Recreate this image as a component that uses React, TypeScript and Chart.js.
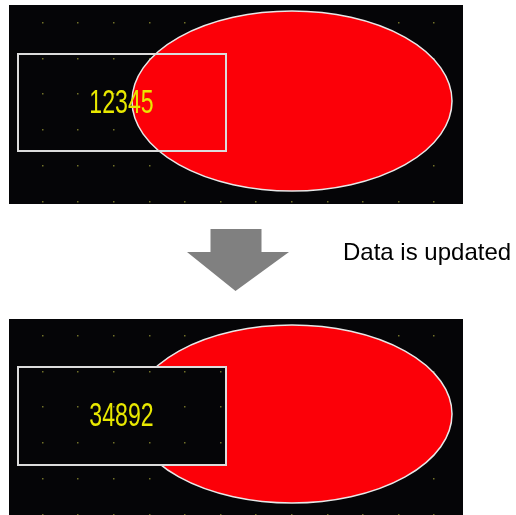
import React, { useEffect, useRef } from "react";
import { Chart, registerables } from "chart.js";

Chart.register(...registerables);

// Data
const stages = ["before update", "after update"];
const displayValues = ["12345", "34892"];
const caption = "Data is updated";

const W = 516;
const H = 515;

// layout of the two screen panels (diagram geometry)
const panelLayout = [
  { top: 5, bottom: 204, ecy: 101, ery: 90, rTop: 54, rBottom: 151, textBase: 113, dotY0: 22, opaqueBox: false },
  { top: 319, bottom: 515, ecy: 414, ery: 89, rTop: 367, rBottom: 465, textBase: 426, dotY0: 335, opaqueBox: true },
];

const diagramPlugin = {
  id: "diagram",
  beforeDatasetsDraw(chart: any) {
    const ctx: CanvasRenderingContext2D = chart.ctx;
    const xs = chart.scales.x;
    const ys = chart.scales.y;
    const px = (v: number) => xs.getPixelForValue(v);
    const py = (v: number) => ys.getPixelForValue(v);

    ctx.save();
    // white page
    ctx.fillStyle = "#ffffff";
    ctx.fillRect(px(0), py(0), px(W) - px(0), py(H) - py(0));

    const drawDots = (p: any) => {
      ctx.fillStyle = "#707028";
      for (let j = 0; j < 7; j++) {
        const dy = p.dotY0 + j * 35.7;
        if (dy > p.bottom) break;
        for (let k = 0; k < 12; k++) {
          const dx = 41.7 + k * 35.6;
          ctx.fillRect(Math.round(px(dx)), Math.round(py(dy)), 1.5, 1.5);
        }
      }
    };

    displayValues.forEach((val, i) => {
      const p = panelLayout[i];
      // black screen
      ctx.fillStyle = "#050507";
      ctx.fillRect(px(9), py(p.top), px(463) - px(9), py(p.bottom) - py(p.top));
      drawDots(p);
      // red ellipse
      ctx.beginPath();
      ctx.ellipse(px(292), py(p.ecy), px(292) - px(132), Math.abs(py(p.ecy + p.ery) - py(p.ecy)), 0, 0, Math.PI * 2);
      ctx.fillStyle = "#fc0008";
      ctx.fill();
      ctx.lineWidth = 1.5;
      ctx.strokeStyle = "#e8e8e8";
      ctx.stroke();
      // numeric display box
      const bx = px(18), by = py(p.rTop), bw = px(226) - px(18), bh = py(p.rBottom) - py(p.rTop);
      if (p.opaqueBox) {
        ctx.fillStyle = "#050507";
        ctx.fillRect(bx, by, bw, bh);
        ctx.save();
        ctx.beginPath();
        ctx.rect(bx, by, bw, bh);
        ctx.clip();
        drawDots(p);
        ctx.restore();
      }
      ctx.lineWidth = 2;
      ctx.strokeStyle = "#dcdcdc";
      ctx.strokeRect(bx, by, bw, bh);
      // value text
      ctx.save();
      ctx.translate(px(121.5), py(p.textBase));
      ctx.scale(0.68, 1);
      ctx.font = 'normal 34px "Liberation Sans", Arial, sans-serif';
      ctx.fillStyle = "#e8e800";
      ctx.textAlign = "center";
      ctx.textBaseline = "alphabetic";
      ctx.fillText(val, 0, 0);
      ctx.restore();
    });

    // gray arrow
    ctx.beginPath();
    ctx.moveTo(px(210.5), py(229));
    ctx.lineTo(px(261.5), py(229));
    ctx.lineTo(px(261.5), py(252));
    ctx.lineTo(px(289), py(252));
    ctx.lineTo(px(235.5), py(291));
    ctx.lineTo(px(187), py(252));
    ctx.lineTo(px(210.5), py(252));
    ctx.closePath();
    ctx.fillStyle = "#808080";
    ctx.fill();

    // caption
    ctx.font = 'normal 24px "Liberation Sans", Arial, sans-serif';
    ctx.fillStyle = "#000000";
    ctx.textAlign = "left";
    ctx.textBaseline = "alphabetic";
    ctx.fillText(caption, px(343), py(260));
    ctx.restore();
  },
};

export default function App() {
  const ref = useRef<HTMLCanvasElement | null>(null);
  useEffect(() => {
    if (!ref.current) return;
    const chart = new Chart(ref.current, {
      type: "scatter",
      data: {
        labels: stages,
        datasets: [{ label: "display", data: [], pointRadius: 0 }],
      },
      options: {
        responsive: false,
        animation: false,
        devicePixelRatio: 1,
        layout: { padding: 0 },
        plugins: { legend: { display: false }, tooltip: { enabled: false } },
        scales: {
          x: { type: "linear", min: 0, max: W, display: false },
          y: { type: "linear", min: 0, max: H, reverse: true, display: false },
        },
      },
      plugins: [diagramPlugin],
    });
    return () => chart.destroy();
  }, []);
  return (
    <div style={{ position: "absolute", left: 0, top: 0, width: W, height: H, background: "#fff" }}>
      <canvas ref={ref} width={W} height={H} style={{ display: "block" }} />
    </div>
  );
}
